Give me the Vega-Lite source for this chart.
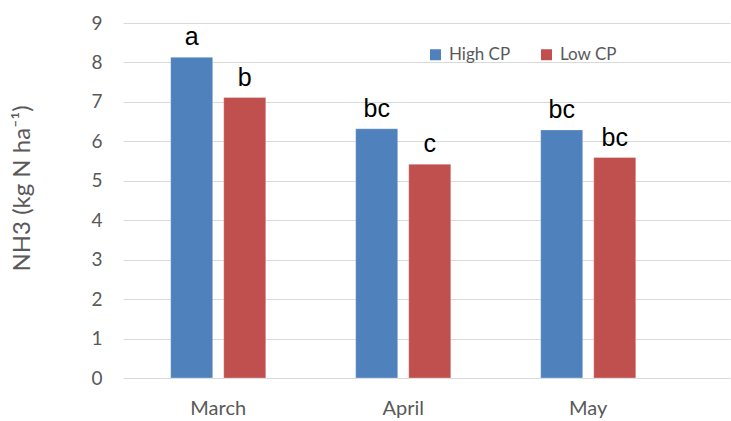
{
  "$schema": "https://vega.github.io/schema/vega-lite/v6.json",
  "autosize": "none",
  "width": 607,
  "height": 355,
  "padding": {"left": 123, "top": 23, "right": 1, "bottom": 43},
  "background": "white",
  "config": {"view": {"stroke": null}},
  "data": {"values": [
    {"month": "March", "group": "High CP", "value": 8.13, "letter": "a"},
    {"month": "March", "group": "Low CP", "value": 7.11, "letter": "b"},
    {"month": "April", "group": "High CP", "value": 6.32, "letter": "bc"},
    {"month": "April", "group": "Low CP", "value": 5.42, "letter": "c"},
    {"month": "May", "group": "High CP", "value": 6.29, "letter": "bc"},
    {"month": "May", "group": "Low CP", "value": 5.59, "letter": "bc"}
  ]},
  "encoding": {
    "x": {"field": "month", "type": "nominal", "sort": ["March", "April", "May"],
      "scale": {"paddingInner": 0.486, "paddingOuter": 0.3835, "align": 0.336},
      "axis": {"title": null, "domain": false, "ticks": false, "labelAngle": 0, "labelFont": "Lato", "labelFontSize": 20, "labelColor": "#595959", "labelPadding": 20}},
    "xOffset": {"field": "group", "type": "nominal", "scale": {"paddingInner": 0.2075, "paddingOuter": 0}},
    "y": {"field": "value", "type": "quantitative",
      "scale": {"domain": [0, 9], "nice": false},
      "axis": {"values": [0,1,2,3,4,5,6,7,8,9], "title": "NH3 (kg N ha⁻¹)", "domain": false, "ticks": false,
        "gridColor": "#D9D9D9", "gridWidth": 1, "labelFont": "Lato", "labelFontSize": 19, "labelColor": "#595959", "labelPadding": 21,
        "titleFont": "Lato", "titleFontSize": 24, "titleFontWeight": "normal", "titleColor": "#595959", "titleAngle": -90,
        "titleX": -101, "titleY": 165, "titleAlign": "center", "titleBaseline": "middle"}}
  },
  "layer": [
    {"mark": {"type": "bar", "strokeWidth": 1, "stroke": "white", "strokeOpacity": 0.3},
      "encoding": {"color": {"field": "group", "type": "nominal",
        "scale": {"domain": ["High CP", "Low CP"], "range": ["#4F81BD", "#C0504D"]},
        "legend": {"title": null, "orient": "none", "legendX": 304, "legendY": 23, "direction": "horizontal",
          "symbolType": "square", "symbolSize": 121, "symbolStrokeWidth": 0, "labelFont": "Lato", "labelFontSize": 17, "labelColor": "#595959",
          "columnPadding": 27, "labelOffset": 5}}}},
    {"mark": {"type": "text", "baseline": "bottom", "dy": -7, "font": "Liberation Sans", "fontSize": 25, "color": "black"},
      "encoding": {"text": {"field": "letter"}}}
  ]
}
